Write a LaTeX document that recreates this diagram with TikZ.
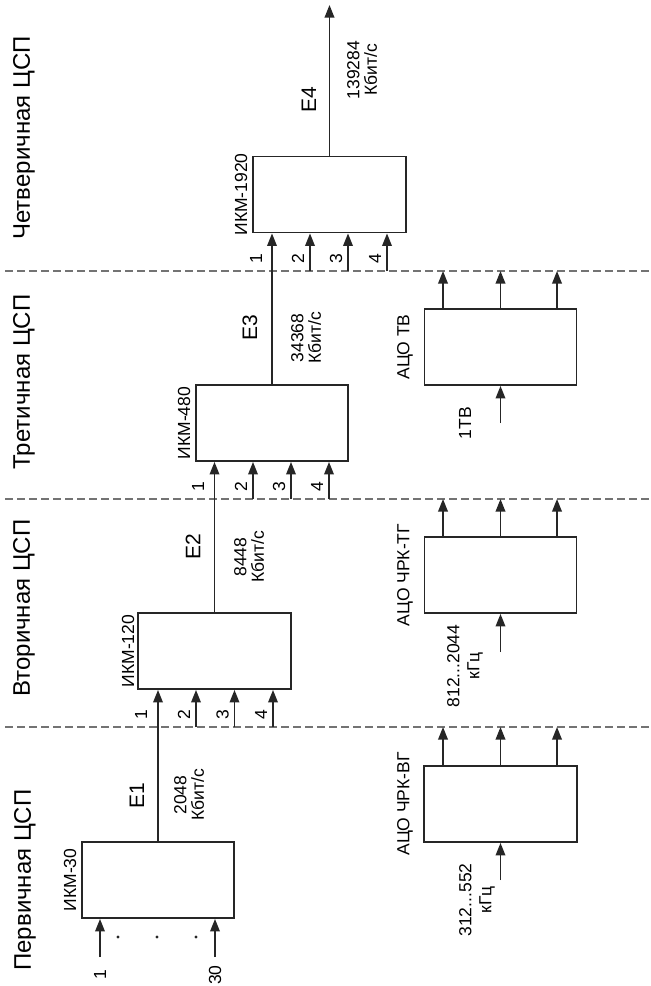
\documentclass[tikz,border=0pt]{standalone}
\usepackage{fontspec}
\setmainfont{Liberation Sans}
\usetikzlibrary{arrows.meta}
\begin{document}
\begin{tikzpicture}[x=1pt,y=-1pt,
  box/.style={draw=black!85, line width=1.8pt, fill=white, minimum width=152pt, minimum height=76pt, inner sep=0pt},
  arr/.style={line width=1.8pt, draw=black!85, -{Triangle[width=9.5pt,length=12.5pt]}},
  divider/.style={draw=black!55, line width=1.5pt, dash pattern=on 8pt off 4pt},
  title/.style={rotate=90, font=\fontsize{24}{28}\selectfont, inner sep=0pt},
  lbl/.style={rotate=90, font=\fontsize{17.5}{18}\selectfont, inner sep=0pt},
  elbl/.style={rotate=90, font=\fontsize{21}{24}\selectfont, inner sep=0pt},
  rate/.style={rotate=90, align=center, font=\fontsize{17.5}{17.5}\selectfont, inner sep=0pt},
  freq/.style={rotate=90, align=center, font=\fontsize{17.5}{20}\selectfont, inner sep=0pt},
  dot/.style={circle, fill=black!85, inner sep=0pt, minimum size=3.2pt},
]
\useasboundingbox (0,0) rectangle (651,986);
\fill[white] (0,0) rectangle (651,986);

% dividers
\draw[divider] (5,727) -- (651,727);
\draw[divider] (5,499) -- (651,499);
\draw[divider] (5,271) -- (651,271);

% section titles
\node[title] (t1) at (25,880) {Первичная ЦСП};
\node[title] (t2) at (24,608) {Вторичная ЦСП};
\node[title] (t3) at (24,382) {Третичная ЦСП};
\node[title] (t4) at (24,138) {Четверичная ЦСП};

% boxes
\node[box] (ikm30) at (158,880) {};
\node[box, minimum width=153pt] (ikm120) at (214.5,651) {};
\node[box] (ikm480) at (272,423) {};
\node[box, minimum width=153pt] (ikm1920) at (329.5,194.5) {};
\node[box, minimum width=153pt] (vg) at (500.5,804) {};
\node[box] (tg) at (500.5,575) {};
\node[box] (tv) at (500.5,347) {};

% box labels
\node[lbl] (l30) at (70,880) {ИКМ-30};
\node[lbl] (l120) at (128,651) {ИКМ-120};
\node[lbl] (l480) at (184,423) {ИКМ-480};
\node[lbl] (l1920) at (241,194.5) {ИКМ-1920};
\node[lbl] (lvg) at (405,804) {АЦО ЧРК-ВГ};
\node[lbl] (ltg) at (405,575) {АЦО ЧРК-ТГ};
\node[lbl] (ltv) at (405,347) {АЦО ТВ};

% IKM-30 inputs
\coordinate (in30a) at (100,957);
\coordinate (in30b) at (215,957);
\draw[arr] (in30a) -- (in30a |- ikm30.south);
\draw[arr] (in30b) -- (in30b |- ikm30.south);
\node[dot] (d1) at (118,937) {};
\node[dot] (d2) at (157,937) {};
\node[dot] (d3) at (196,937) {};
\node[lbl] (n1) at (100,975) {1};
\node[lbl] (n30) at (215,975) {30};

% main chain
\draw[arr] (ikm30.north) -- (ikm30.north |- ikm120.south);
\draw[arr] (ikm120.north) -- (ikm120.north |- ikm480.south);
\draw[arr] (ikm480.north) -- (ikm480.north |- ikm1920.south);
\coordinate (out4) at (329.5,5);
\draw[arr] (ikm1920.north) -- (out4);

% E labels and rates
\node[elbl] (e1) at (137,796) {E1};
\node[elbl] (e2) at (193,547) {E2};
\node[elbl] (e3) at (250,328) {E3};
\node[elbl] (e4) at (309,100) {E4};
\node[rate] (r1) at (189,795) {2048\\Кбит/с};
\node[rate] (r2) at (249,557) {8448\\Кбит/с};
\node[rate] (r3) at (306,338) {34368\\Кбит/с};
\node[rate] (r4) at (362,70) {139284\\Кбит/с};

% IKM-120 inputs 2..4
\coordinate (a2) at (196,727);
\coordinate (a3) at (234.5,727);
\coordinate (a4) at (273,727);
\draw[arr] (a2) -- (a2 |- ikm120.south);
\draw[arr] (a3) -- (a3 |- ikm120.south);
\draw[arr] (a4) -- (a4 |- ikm120.south);
\node[lbl] (pa1) at (141,715) {1};
\node[lbl] (pa2) at (184,715) {2};
\node[lbl] (pa3) at (222.5,715) {3};
\node[lbl] (pa4) at (261,715) {4};

% IKM-480 inputs 2..4
\coordinate (b2) at (253,499);
\coordinate (b3) at (291,499);
\coordinate (b4) at (329,499);
\draw[arr] (b2) -- (b2 |- ikm480.south);
\draw[arr] (b3) -- (b3 |- ikm480.south);
\draw[arr] (b4) -- (b4 |- ikm480.south);
\node[lbl] (pb1) at (198,487) {1};
\node[lbl] (pb2) at (241,487) {2};
\node[lbl] (pb3) at (279,487) {3};
\node[lbl] (pb4) at (317,487) {4};

% IKM-1920 inputs 2..4
\coordinate (c2) at (310,271);
\coordinate (c3) at (348,271);
\coordinate (c4) at (387,271);
\draw[arr] (c2) -- (c2 |- ikm1920.south);
\draw[arr] (c3) -- (c3 |- ikm1920.south);
\draw[arr] (c4) -- (c4 |- ikm1920.south);
\node[lbl] (pc1) at (256,259) {1};
\node[lbl] (pc2) at (298,259) {2};
\node[lbl] (pc3) at (336,259) {3};
\node[lbl] (pc4) at (375,259) {4};

% ATsO outputs
\foreach \b/\y in {vg/727, tg/499, tv/271}{
  \coordinate (\b o1) at (443,\y);
  \coordinate (\b o2) at (500.5,\y);
  \coordinate (\b o3) at (557,\y);
  \draw[arr] (\b o1 |- \b.north) -- (\b o1);
  \draw[arr] (\b o2 |- \b.north) -- (\b o2);
  \draw[arr] (\b o3 |- \b.north) -- (\b o3);
}

% ATsO inputs
\coordinate (vgi) at (500.5,880);
\coordinate (tgi) at (500.5,652);
\coordinate (tvi) at (500.5,423);
\draw[arr] (vgi) -- (vgi |- vg.south);
\draw[arr] (tgi) -- (tgi |- tg.south);
\draw[arr] (tvi) -- (tvi |- tv.south);
\node[freq] (f1) at (477,900) {312...552\\кГц};
\node[freq] (f2) at (465,666) {812...2044\\кГц};
\node[lbl] (f3) at (465,423) {1ТВ};
\end{tikzpicture}
\end{document}
